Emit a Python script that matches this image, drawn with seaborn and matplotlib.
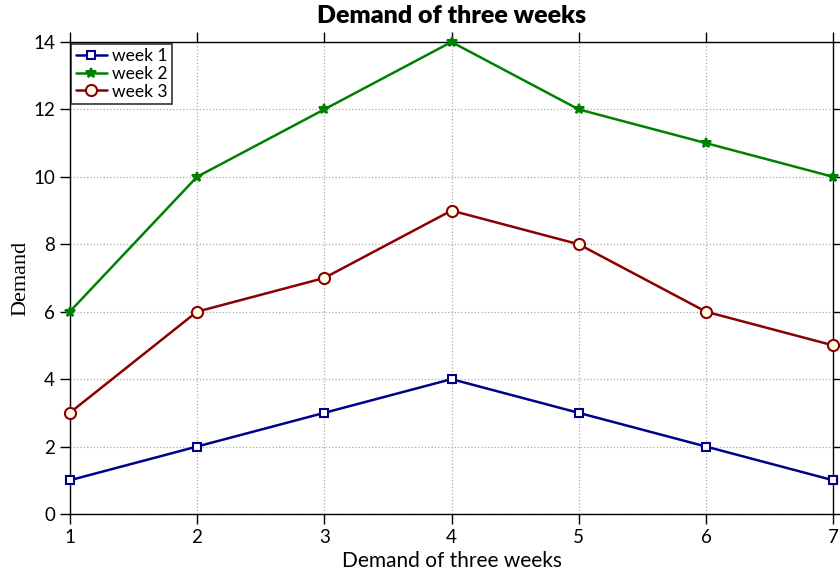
import matplotlib
matplotlib.use("Agg")
import matplotlib.pyplot as plt
import seaborn as sns
import pandas as pd

days = [1, 2, 3, 4, 5, 6, 7]
week1 = [1, 2, 3, 4, 3, 2, 1]
week2 = [6, 10, 12, 14, 12, 11, 10]
week3 = [3, 6, 7, 9, 8, 6, 5]
series_names = ["week 1", "week 2", "week 3"]

sns.set_theme(style="white")
plt.rcParams['font.family'] = ['Lato', 'DejaVu Sans']
plt.rcParams['text.color'] = 'black'
plt.rcParams['axes.labelcolor'] = 'black'

df = pd.DataFrame({"day": days * 3,
                   "value": week1 + week2 + week3,
                   "week": [series_names[0]] * 7 + [series_names[1]] * 7 + [series_names[2]] * 7})

fig = plt.figure(figsize=(8.4, 5.72), dpi=100)
ax = fig.add_axes([0.083, 0.1014, 0.909, 0.8252])

colors = ["#00008B", "#008000", "#8B0000"]
markers = ["s", "*", "o"]
faces = ["white", "#008000", "#FFFFE8"]
sizes = [6, 7, 8]
for name, c, m, f, s in zip(series_names, colors, markers, faces, sizes):
    sub = df[df["week"] == name]
    sns.lineplot(data=sub, x="day", y="value", ax=ax, color=c, marker=m,
                 markerfacecolor=f, markeredgecolor=c, markeredgewidth=1.5,
                 markersize=s, linewidth=1.8, label=name, clip_on=False, zorder=3)

ax.set_xlim(1, 7)
ax.set_ylim(0, 14)
ax.set_xticks(days)
ax.set_yticks(range(0, 15, 2))
ax.grid(True, linestyle=":", color="#aaaaaa", linewidth=0.9)
for sp in ax.spines.values():
    sp.set_color("black")
    sp.set_linewidth(1.0)
ax.tick_params(direction="out", length=7, width=1, colors="black", labelsize=13.5,
               top=True, right=True, bottom=True, left=True)
ax.set_title("Demand of three weeks", fontsize=18, fontweight="heavy", color="black", pad=14)
ax.set_xlabel("Demand of three weeks", fontsize=15, labelpad=4, color="black")
ax.set_ylabel("Demand", fontsize=16, family=["Liberation Serif", "DejaVu Serif"], labelpad=2, color="black")
leg = ax.legend(loc="upper left", fontsize=12.5, frameon=True, fancybox=False,
                edgecolor="black", borderpad=0.25, labelspacing=0.1,
                handlelength=1.8, handletextpad=0.3, borderaxespad=0.1)
leg.get_frame().set_linewidth(1.2)

fig.savefig("out.png", dpi=100)
